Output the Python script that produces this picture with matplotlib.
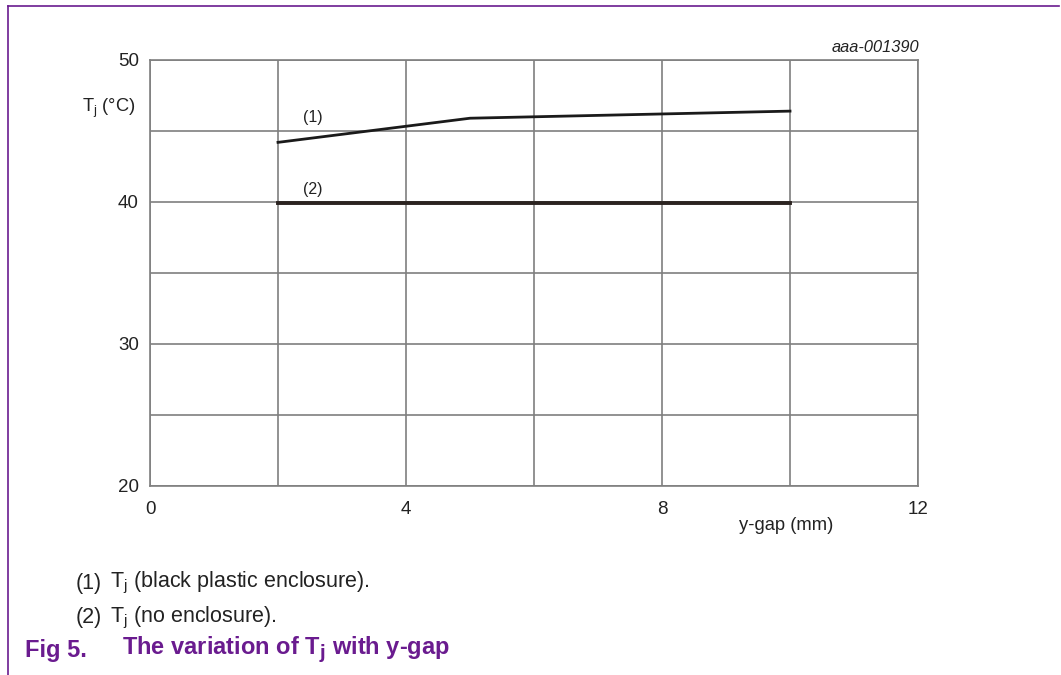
import matplotlib.pyplot as plt
from matplotlib.lines import Line2D

plt.rcParams['font.family'] = ['Liberation Sans', 'DejaVu Sans']

# junction temperature vs y-gap
gap_enclosure = [2, 5, 10]
tj_enclosure = [44.2, 45.9, 46.4]
gap_open = [2, 10]
tj_open = [39.9, 39.9]

x_ticks = [0, 4, 8, 12]
y_ticks = [20, 30, 40, 50]
purple = '#6a1b8f'
grid_col = '#7f7f7f'
txt = '#222222'

fig = plt.figure(figsize=(10.61, 6.75), dpi=100)
ax = fig.add_axes([150 / 1061, 1 - 486 / 675, 768 / 1061, 426 / 675])

ax.set_xlim(0, 12)
ax.set_ylim(20, 50)
ax.set_xticks(x_ticks)
ax.set_xticks(range(0, 13, 2), minor=True)
ax.set_yticks(y_ticks)
ax.set_yticks(range(20, 51, 5), minor=True)
ax.grid(which='both', color=grid_col, lw=1.2)
ax.tick_params(which='both', length=0, labelsize=13.5, colors=txt)
ax.tick_params(axis='x', pad=11)
ax.tick_params(axis='y', pad=8)
for s in ax.spines.values():
    s.set_color(grid_col)
    s.set_linewidth(1.2)

ax.plot(gap_enclosure, tj_enclosure, color='#1a1a1a', lw=2, zorder=3)
ax.plot(gap_open, tj_open, color='#2b2320', lw=2.8, zorder=3)

ax.text(2.55, 45.95, '(1)', fontsize=11.5, ha='center', va='center', color=txt)
ax.text(2.55, 40.9, '(2)', fontsize=11.5, ha='center', va='center', color=txt)

fig.text(109 / 1061, 1 - 108 / 675, r'T$_\mathregular{j}$ (°C)', fontsize=13.2,
         ha='center', va='center', color=txt)
fig.text(919 / 1061, 1 - 48 / 675, 'aaa-001390', fontsize=11.8, style='italic',
         ha='right', va='center', color=txt)
fig.text(786 / 1061, 1 - 526 / 675, 'y-gap (mm)', fontsize=13.2,
         ha='center', va='center', color=txt)

# notes and caption
fig.text(76 / 1061, 1 - 583 / 675, '(1)', fontsize=15.5, va='center', color=txt)
fig.text(110 / 1061, 1 - 583 / 675, r'T$_\mathregular{j}$ (black plastic enclosure).',
         fontsize=15.5, va='center', color=txt)
fig.text(76 / 1061, 1 - 618 / 675, '(2)', fontsize=15.5, va='center', color=txt)
fig.text(110 / 1061, 1 - 618 / 675, r'T$_\mathregular{j}$ (no enclosure).',
         fontsize=15.5, va='center', color=txt)
fig.text(25 / 1061, 1 - 650 / 675, 'Fig 5.', fontsize=17, weight='bold',
         va='center', color=purple)
fig.text(122 / 1061, 1 - 650 / 675, r'The variation of T$_\mathregular{\mathbf{j}}$ with y-gap',
         fontsize=17, weight='bold', va='center', color=purple)

# page frame
fig.add_artist(Line2D([8 / 1061, 8 / 1061], [0, 1 - 6 / 675], color=purple, lw=1.2))
fig.add_artist(Line2D([8 / 1061, 1059 / 1061], [1 - 6 / 675, 1 - 6 / 675], color=purple, lw=1.2))

fig.savefig('out.png', dpi=100)
